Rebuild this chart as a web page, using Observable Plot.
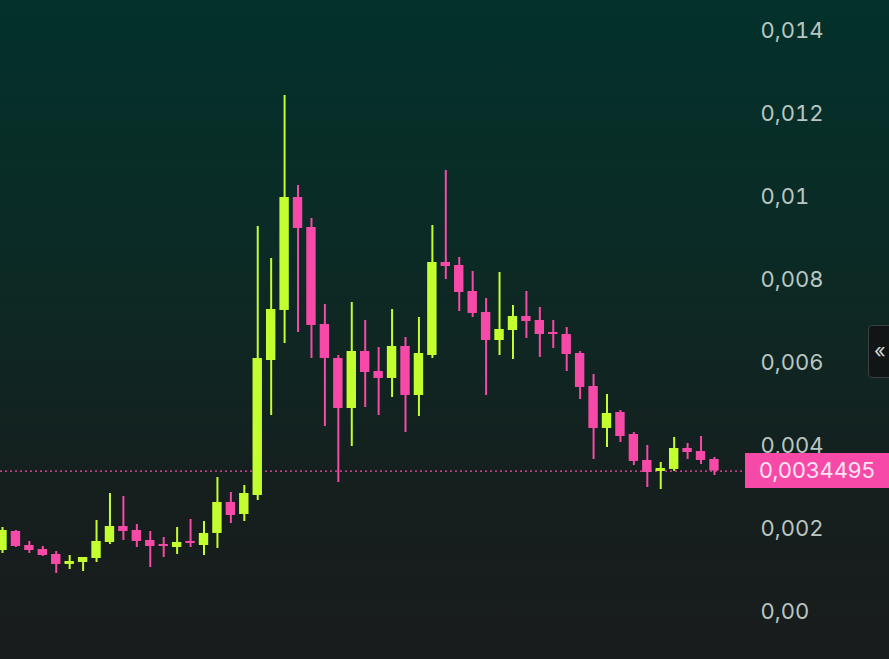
<!DOCTYPE html>
<html>
<head>
<meta charset="utf-8">
<script src="https://cdn.jsdelivr.net/npm/d3@7"></script>
<script src="https://cdn.jsdelivr.net/npm/@observablehq/plot@0.6"></script>
<style>
  html, body { margin: 0; padding: 0; }
  body {
    width: 889px; height: 659px; overflow: hidden; position: relative;
    background: linear-gradient(180deg, #03312b 0%, #0c2a25 40%, #151f1e 75%, #191c1c 100%);
    font-family: Inter, "DejaVu Sans", sans-serif;
  }
  #chart { position: absolute; left: 0; top: 0; }
  #price {
    position: absolute; left: 745px; width: 144px; height: 35px;
    background: #f74aa8; color: #fde6f2; font-size: 22px; line-height: 35px;
    box-sizing: border-box; padding-left: 14px; font-family: Inter, sans-serif;
  }
  #collapse {
    position: absolute; left: 868px; top: 325px; width: 32px; height: 53px;
    background: #121515; border: 1px solid #3b4141; border-radius: 4px; box-sizing: border-box;
    color: #d0d6d5; font-size: 20px; line-height: 51px; padding-left: 5px;
  }
</style>
</head>
<body>
<div id="chart"></div>
<div id="price"></div>
<div id="collapse">«</div>
<script>
const open = [0.001535,0.001993,0.001655,0.001559,0.001439,0.001198,0.001246,0.001342,0.001728,0.002113,
  0.002017,0.001776,0.001680,0.001607,0.001752,0.001655,0.001945,0.002692,0.002402,0.002860,
  0.006113,0.007318,0.010041,0.009318,0.006981,0.006161,0.004957,0.006330,0.005848,0.005680,
  0.006451,0.005270,0.006234,0.008475,0.008402,0.007776,0.007270,0.006595,0.006836,0.007173,
  0.007077,0.006788,0.006740,0.006282,0.005487,0.004475,0.004860,0.004330,0.003704,0.003439,
  0.003487,0.003993,0.003920,0.003728];
const high = [0.002089,0.002017,0.001752,0.001631,0.001511,0.001414,0.001366,0.002258,0.002908,0.002836,
  0.002161,0.001993,0.001848,0.002089,0.002282,0.002234,0.003294,0.002933,0.003101,0.009342,
  0.008571,0.012499,0.010330,0.009535,0.007463,0.006234,0.007511,0.007077,0.006427,0.007342,
  0.006667,0.007149,0.009366,0.010692,0.008595,0.008258,0.007607,0.008234,0.007439,0.007776,
  0.007390,0.007077,0.006908,0.006330,0.005776,0.005294,0.004908,0.004378,0.004065,0.003655,
  0.004258,0.004113,0.004282,0.003776];
const low = [0.001463,0.001607,0.001463,0.001390,0.000981,0.001077,0.001029,0.001246,0.001680,0.001776,
  0.001607,0.001125,0.001366,0.001439,0.001607,0.001414,0.001583,0.002186,0.002234,0.002740,
  0.004788,0.006523,0.006788,0.006161,0.004523,0.003173,0.004041,0.004981,0.004788,0.005222,
  0.004378,0.004764,0.006161,0.008065,0.007294,0.007149,0.005270,0.006234,0.006137,0.006643,
  0.006186,0.006402,0.005848,0.005173,0.003728,0.004017,0.004137,0.003583,0.003053,0.003005,
  0.003439,0.003728,0.003607,0.003342];
const close = [0.002017,0.001631,0.001535,0.001414,0.001198,0.001270,0.001366,0.001752,0.002113,0.001993,
  0.001752,0.001631,0.001631,0.001728,0.001704,0.001945,0.002692,0.002378,0.002908,0.006161,
  0.007342,0.010041,0.009294,0.006957,0.006161,0.004957,0.006330,0.005824,0.005680,0.006451,
  0.005270,0.006282,0.008475,0.008378,0.007752,0.007246,0.006595,0.006860,0.007173,0.007053,
  0.006740,0.006740,0.006258,0.005463,0.004475,0.004836,0.004282,0.003680,0.003414,0.003511,
  0.003993,0.003896,0.003704,0.0034495];
const lastPrice = 0.0034495;
const lastPriceLabel = "0,0034495";
const yTicks = [0, 0.002, 0.004, 0.006, 0.008, 0.010, 0.012, 0.014];
const yTickLabels = ["0,00", "0,002", "0,004", "0,006", "0,008", "0,01", "0,012", "0,014"];

const GREEN = "#c3ff2f";
const PINK = "#f74aa8";

const data = open.map((o, i) => ({i, o, h: high[i], l: low[i], c: close[i]}));
const col = d => (d.c >= d.o ? GREEN : PINK);

const chart = Plot.plot({
  width: 889,
  height: 659,
  marginTop: 0,
  marginBottom: 0,
  marginLeft: 0,
  marginRight: 144,
  style: {background: "transparent", fontFamily: "Inter, sans-serif", overflow: "visible"},
  x: {domain: [-0.149, 55.31], axis: null},
  y: {domain: [-0.001092, 0.014788], axis: null},
  color: {type: "identity"},
  marks: [
    Plot.axisY(yTicks, {
      anchor: "right", tickSize: 0, tickPadding: 15,
      tickFormat: (d, i) => yTickLabels[i],
      fill: "#b9c6c2", fontSize: 22, dy: -2
    }),
    Plot.ruleY([lastPrice], {stroke: PINK, strokeDasharray: "2,3", strokeWidth: 1.2}),
    Plot.ruleX(data, {x: "i", y1: "l", y2: "h", stroke: col, strokeWidth: 2}),
    Plot.rectY(data, {x1: d => d.i - 0.35, x2: d => d.i + 0.35, y1: "o", y2: "c", fill: col})
  ]
});
document.getElementById("chart").appendChild(chart);

const py = chart.scale("y").apply(lastPrice);
const priceEl = document.getElementById("price");
priceEl.textContent = lastPriceLabel;
priceEl.style.top = (py - 17.5) + "px";
</script>
</body>
</html>
